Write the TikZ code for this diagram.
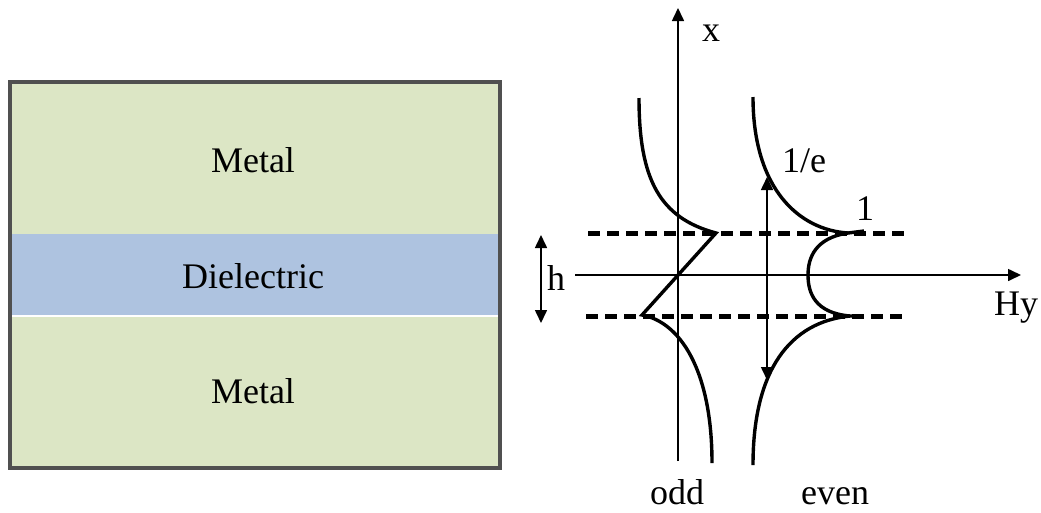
\documentclass[tikz,border=0pt]{standalone}
\usepackage{fontspec}
\setmainfont{Liberation Serif}
\usetikzlibrary{arrows.meta}

\definecolor{metalgreen}{HTML}{DCE6C5}
\definecolor{dielblue}{HTML}{AEC3E0}
\definecolor{framegray}{HTML}{505050}

\begin{document}
\begin{tikzpicture}[x=1pt, y=-1pt, >={Triangle[length=13pt, width=12pt]},
        lbl/.style={font=\fontsize{36}{38}\selectfont, inner sep=0pt, anchor=base},
        curve/.style={black, line width=3.4pt},
        level/.style={black, line width=5pt, dash pattern=on 12pt off 7pt}]

        \useasboundingbox (0,0) rectangle (1041,512);

        % Layer stack
        \fill[metalgreen] (10,82) rectangle (500,234);
        \fill[dielblue] (10,234) rectangle (500,316);
        \fill[metalgreen] (10,316) rectangle (500,468);
        \draw[white, line width=1.5pt] (10,316) -- (500,316);
        \draw[framegray, line width=4.5pt] (10,82) rectangle (500,468);

        \node[lbl] (metaltop) at (253,172) {Metal};
        \node[lbl] (diel) at (253,288) {Dielectric};
        \node[lbl] (metalbot) at (253,403) {Metal};

        % Axes
        \coordinate (xfoot) at (678,461);
        \coordinate (xtip) at (678,8);
        \coordinate (hyfoot) at (575,275);
        \coordinate (hytip) at (1021,275);
        \draw[->, line width=1.6pt] (xfoot) -- (xtip);
        \draw[->, line width=1.6pt] (hyfoot) -- (hytip);
        \node[lbl] (xlbl) at (711,41) {x};
        \node[lbl] (hylbl) at (1016,315) {Hy};

        % Slab edges
        \draw[level] (588,233) -- (910,233);
        \draw[level] (586,316) -- (908,316);

        % Odd mode
        \draw[curve] (639,98) .. controls (639,180) and (660,218) .. (716,233)
            -- (642,315) .. controls (680,322) and (712,370) .. (712,463);

        % Even mode
        \draw[curve] (753,97) .. controls (753,190) and (800,230) .. (848,233) -- (864,231);
        \draw[curve] (848,233) .. controls (815,238) and (808,258) .. (808,275)
            .. controls (808,293) and (815,313) .. (850,316) -- (862,316);
        \draw[curve] (850,316) .. controls (790,322) and (753,370) .. (753,465);

        % Decay length
        \coordinate (dtop) at (767,177);
        \coordinate (dbot) at (767,380);
        \draw[<->, line width=1.6pt] (dtop) -- (dbot);
        \node[lbl] (inve) at (804,172) {1/e};
        \node[lbl] (one) at (865,220) {1};

        % Slab thickness
        \coordinate (htop) at (541,235);
        \coordinate (hbot) at (541,323);
        \draw[<->, line width=1.6pt] (htop) -- (hbot);
        \node[lbl] (hlbl) at (556,290) {h};

        \node[lbl] (oddlbl) at (677,504) {odd};
        \node[lbl] (evenlbl) at (835,504) {even};

    \end{tikzpicture}
\end{document}
